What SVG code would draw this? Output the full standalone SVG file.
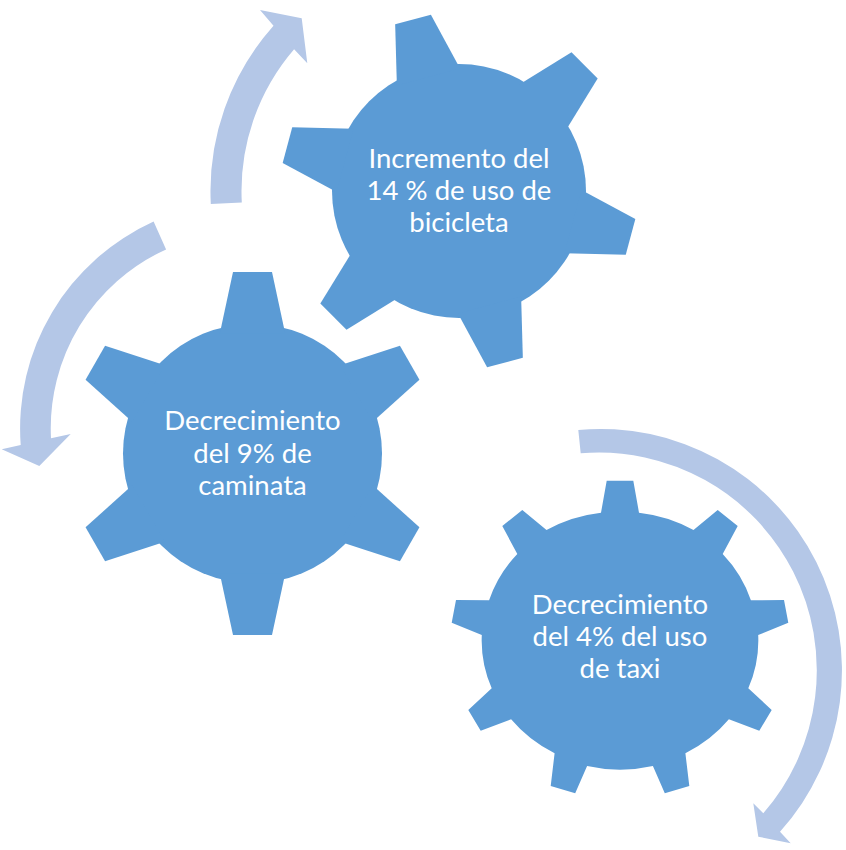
<svg xmlns="http://www.w3.org/2000/svg" xmlns:xlink="http://www.w3.org/1999/xlink" width="846" height="850" viewBox="0 0 846 850">
  <style>
    .gear { fill: #5B9BD5; }
    .arrow { fill: #B4C7E7; }
    .label { fill: #FFFFFF; font-family: Lato, "Open Sans", "Liberation Sans", sans-serif; font-size: 27.5px; text-anchor: middle; }
  </style>
  <defs>
    <!-- tooth profiles, pointing along +x from the gear centre -->
    <polygon id="tooth-a" points="118,-32.7 177.6,-18.5 177.6,18.5 118,32.7"/>
    <polygon id="tooth-b" points="120,-32.7 181.5,-19.5 181.5,19.5 120,32.7"/>
  </defs>
  <rect width="846" height="850" fill="#FFFFFF"/>

  <!-- circular arrows -->
  <g id="connectors">
    <path class="arrow" d="M 210.8,204 A 248.5 248.5 0 0 1 273.5,25.7 L 260,10 L 301.7,18.3 L 307.3,63.3 L 294.1,49.2 A 217.5 217.5 0 0 0 241.8,202.4 Z"/>
    <path class="arrow" d="M 153.6,221.6 A 227 227 0 0 0 20.7,445 L 1.7,449.3 L 39.3,466 L 70.7,434 L 51,438.3 A 196.5 196.5 0 0 1 166.1,249.4 Z"/>
    <path class="arrow" d="M 578.3,430 A 241.3 241.3 0 0 1 780,831.7 L 790.7,843.3 L 758.3,836.7 L 753.3,803.3 L 763.3,813.3 A 217.8 217.8 0 0 0 580.7,453.3 Z"/>
  </g>

  <!-- gear: bicycle use -->
  <g id="gear-bicicleta">
    <g class="gear" transform="translate(459 191)">
      <circle r="127"/>
      <use xlink:href="#tooth-a" transform="rotate(-105)"/>
      <use xlink:href="#tooth-a" transform="rotate(-45)"/>
      <use xlink:href="#tooth-a" transform="rotate(15)"/>
      <use xlink:href="#tooth-a" transform="rotate(75)"/>
      <use xlink:href="#tooth-a" transform="rotate(135)"/>
      <use xlink:href="#tooth-a" transform="rotate(195)"/>
    </g>
    <text class="label" x="459" y="168">Incremento del</text>
    <text class="label" x="459" y="200">14 % de uso de</text>
    <text class="label" x="459" y="231.5">bicicleta</text>
  </g>

  <!-- gear: walking -->
  <g id="gear-caminata">
    <g class="gear" transform="translate(252.5 453.5)">
      <circle r="129.5"/>
      <use xlink:href="#tooth-b" transform="rotate(-90)"/>
      <use xlink:href="#tooth-b" transform="rotate(-30)"/>
      <use xlink:href="#tooth-b" transform="rotate(30)"/>
      <use xlink:href="#tooth-b" transform="rotate(90)"/>
      <use xlink:href="#tooth-b" transform="rotate(150)"/>
      <use xlink:href="#tooth-b" transform="rotate(210)"/>
    </g>
    <text class="label" x="252.5" y="430">Decrecimiento</text>
    <text class="label" x="252.5" y="462.5">del 9% de</text>
    <text class="label" x="252.5" y="495">caminata</text>
  </g>

  <!-- gear: taxi use (nine teeth, slightly oval body) -->
  <g id="gear-taxi">
    <path class="gear" d="M 601,512.7 L 606.7,480.7 L 633.3,480.7 L 639,512.7
      A 139 128 0 0 1 693.5,530 L 717.7,510 L 737.7,526 L 722.7,554
      A 139 128 0 0 1 750.9,600.3 L 784,600 L 788.3,622.7 L 758.2,635
      A 139 128 0 0 1 748.3,688.3 L 771.7,710 L 759.3,730.7 L 728.9,719.3
      A 139 128 0 0 1 685.4,753.3 L 689.3,786 L 664.8,793.3 L 652.9,766
      A 139 128 0 0 1 587.1,766 L 575.2,793.3 L 550.7,786 L 554.6,753.3
      A 139 128 0 0 1 511.1,719.3 L 480.7,730.7 L 468.3,710 L 491.7,688.3
      A 139 128 0 0 1 481.8,635 L 451.7,622.7 L 456,600 L 489.1,600.3
      A 139 128 0 0 1 517.3,554 L 502.3,526 L 522.3,510 L 546.5,530
      A 139 128 0 0 1 601,512.7 Z"/>
    <text class="label" x="620" y="614">Decrecimiento</text>
    <text class="label" x="620" y="646">del 4% del uso</text>
    <text class="label" x="620" y="678">de taxi</text>
  </g>
</svg>
